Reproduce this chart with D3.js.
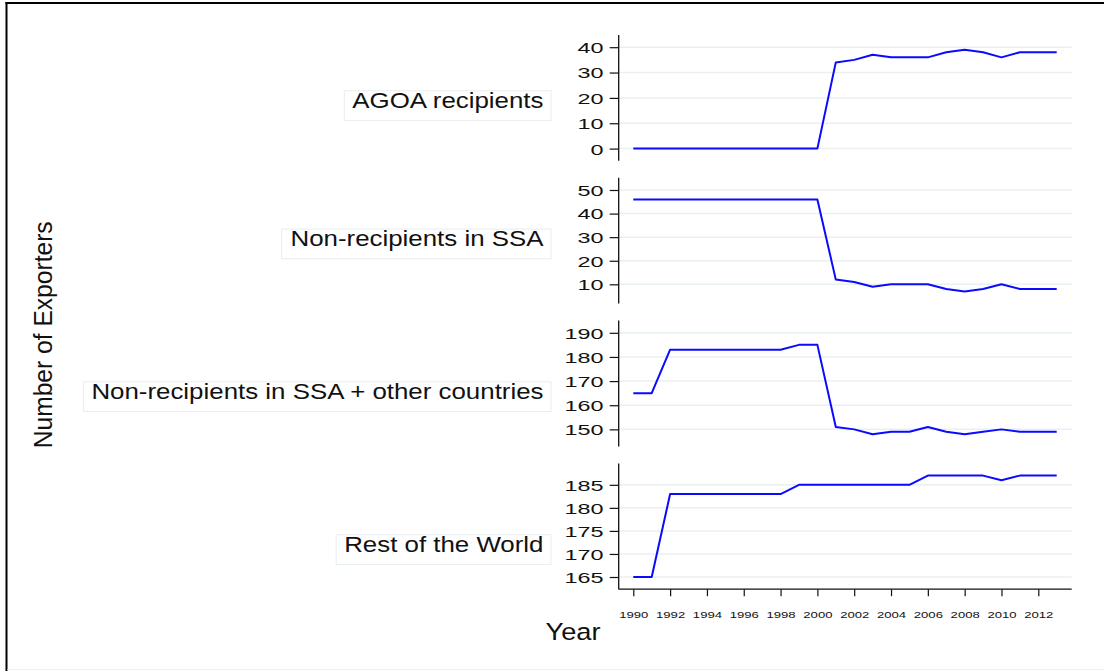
<!DOCTYPE html>
<html>
<head>
<meta charset="utf-8">
<script src="https://cdn.jsdelivr.net/npm/d3@7"></script>
<style>
  body { margin: 0; background: #fff; }
  svg { display: block; }
  text { font-family: "Liberation Sans", Arial, Helvetica, sans-serif; fill: #111; }
</style>
</head>
<body>
<svg id="chart" width="1104" height="671"></svg>
<script>
// Number of exporters by group, 1990-2013
const years = [1990, 1991, 1992, 1993, 1994, 1995, 1996, 1997, 1998, 1999, 2000, 2001,
               2002, 2003, 2004, 2005, 2006, 2007, 2008, 2009, 2010, 2011, 2012, 2013];

const agoaRecipients = [0, 0, 0, 0, 0, 0, 0, 0, 0, 0, 0, 34,
                        35, 37, 36, 36, 36, 38, 39, 38, 36, 38, 38, 38];
const nonRecipientsSSA = [46, 46, 46, 46, 46, 46, 46, 46, 46, 46, 46, 12,
                          11, 9, 10, 10, 10, 8, 7, 8, 10, 8, 8, 8];
const nonRecipientsSSAOther = [165, 165, 183, 183, 183, 183, 183, 183, 183, 185, 185, 151,
                               150, 148, 149, 149, 151, 149, 148, 149, 150, 149, 149, 149];
const restOfWorld = [165, 165, 183, 183, 183, 183, 183, 183, 183, 185, 185, 185,
                     185, 185, 185, 185, 187, 187, 187, 187, 186, 187, 187, 187];

const panelNames = ["AGOA recipients", "Non-recipients in SSA",
                    "Non-recipients in SSA + other countries", "Rest of the World"];
const panelSeries = [agoaRecipients, nonRecipientsSSA, nonRecipientsSSAOther, restOfWorld];

const yTicksAGOA = [0, 10, 20, 30, 40];
const yTicksSSA = [10, 20, 30, 40, 50];
const yTicksSSAOther = [150, 160, 170, 180, 190];
const yTicksRest = [165, 170, 175, 180, 185];
const panelTicks = [yTicksAGOA, yTicksSSA, yTicksSSAOther, yTicksRest];

const xTickYears = [1990, 1992, 1994, 1996, 1998, 2000, 2002, 2004, 2006, 2008, 2010, 2012];

// ---- layout ----
const svg = d3.select("#chart");
const plotLeft = 618.7, plotRight = 1071.7;
const panelTop0 = 35, panelStep = 142.8, panelHeight = 125.8, innerPad = 12.2;
const labelBaselines = [108, 246.3, 399, 552];
const labelRight = 543.5, boxRight = 551;

const lineColor = "#0a0aff";
const gridColor = "#e9f0f2";

// outer frame
svg.append("line").attr("x1", 6.5).attr("x2", 6.5).attr("y1", 2).attr("y2", 671)
  .attr("stroke", "#000").attr("stroke-width", 2);
svg.append("line").attr("x1", 5.5).attr("x2", 1104).attr("y1", 3).attr("y2", 3)
  .attr("stroke", "#000").attr("stroke-width", 2);
svg.append("line").attr("x1", 7.5).attr("x2", 1104).attr("y1", 669.5).attr("y2", 669.5)
  .attr("stroke", "#eef2f3").attr("stroke-width", 1);

const x = d3.scaleLinear()
  .domain(d3.extent(years))
  .range([633.3, 1056.7]);

// horizontally widened text, as in the rendered figure
function wideText(g, px, py, str, size, sx, anchor) {
  return g.append("text")
    .attr("transform", `translate(${px},${py}) scale(${sx},1)`)
    .attr("text-anchor", anchor)
    .style("font-size", size + "px")
    .text(str);
}

panelSeries.forEach((values, i) => {
  const top = panelTop0 + i * panelStep;
  const bottom = top + panelHeight;
  const ticks = panelTicks[i];
  const y = d3.scaleLinear()
    .domain(d3.extent(values.concat(ticks)))
    .range([bottom - innerPad, top + innerPad]);

  const g = svg.append("g");

  // gridlines
  g.selectAll("line.grid").data(ticks).join("line")
    .attr("class", "grid")
    .attr("x1", plotLeft).attr("x2", plotRight)
    .attr("y1", d => y(d)).attr("y2", d => y(d))
    .attr("stroke", gridColor).attr("stroke-width", 1.5);

  // y axis
  const ax = g.append("g")
    .attr("transform", `translate(${plotLeft},0)`)
    .call(d3.axisLeft(y).tickValues(ticks).tickSize(9).tickSizeOuter(0).tickFormat(d3.format("d")));
  ax.select(".domain").remove();
  ax.selectAll(".tick line").attr("stroke", "#111").attr("stroke-width", 1.2);
  ax.selectAll(".tick text")
    .attr("x", null).attr("dy", null)
    .attr("transform", "translate(-15.2,5.4) scale(1.56,1)")
    .style("font-size", "15px").style("font-family", null)
    .attr("fill", "#111");
  g.append("line")
    .attr("x1", plotLeft).attr("x2", plotLeft)
    .attr("y1", top).attr("y2", bottom)
    .attr("stroke", "#111").attr("stroke-width", 1.3);

  // series line
  const line = d3.line().x((d, j) => x(years[j])).y(d => y(d));
  g.append("path")
    .datum(values)
    .attr("d", line)
    .attr("fill", "none")
    .attr("stroke", lineColor)
    .attr("stroke-width", 2)
    .attr("stroke-linejoin", "round");

  // group label in a thin box
  const lg = svg.append("g");
  const rect = lg.append("rect");
  const t = wideText(lg, labelRight, labelBaselines[i], panelNames[i], 22.5, 1.15, "end");
  const w = t.node().getBBox().width * 1.15;
  const boxTop = labelBaselines[i] - 17.2;
  rect.attr("x", labelRight - w - 8).attr("y", boxTop)
    .attr("width", boxRight - (labelRight - w - 8)).attr("height", 29.6)
    .attr("fill", "#fff").attr("stroke", "#e6eef0").attr("stroke-width", 1);

  // x axis under the last panel
  if (i === panelSeries.length - 1) {
    g.append("line")
      .attr("x1", plotLeft).attr("x2", plotRight)
      .attr("y1", bottom).attr("y2", bottom)
      .attr("stroke", "#111").attr("stroke-width", 1.3);
    const xa = g.append("g")
      .attr("transform", `translate(0,${bottom})`)
      .call(d3.axisBottom(x).tickValues(xTickYears).tickSize(7).tickSizeOuter(0).tickFormat(d3.format("d")));
    xa.select(".domain").remove();
    xa.selectAll(".tick line").attr("stroke", "#111").attr("stroke-width", 1.2);
    xa.selectAll(".tick text")
      .attr("y", null).attr("dy", null)
      .attr("transform", "translate(0,28.4) scale(1.38,1)")
      .style("font-size", "9.5px").style("font-family", null)
      .attr("fill", "#111");
  }
});

// axis titles
wideText(svg, 573, 640, "Year", 23.3, 1.17, "middle");
svg.append("text")
  .attr("transform", "translate(51.5,334.8) rotate(-90) scale(1.07,1.15)")
  .attr("text-anchor", "middle")
  .style("font-size", "23px")
  .text("Number of Exporters");
</script>
</body>
</html>
